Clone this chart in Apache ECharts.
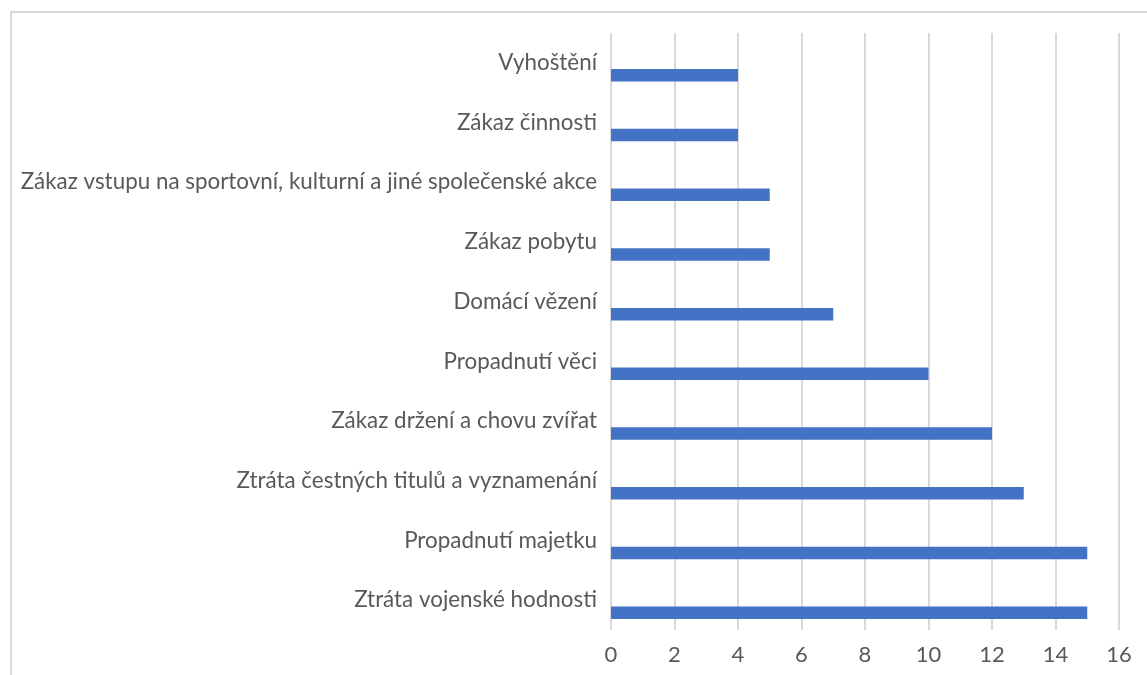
<!DOCTYPE html>
<html><head><meta charset="utf-8">
<script src="https://cdn.jsdelivr.net/npm/echarts@6/dist/echarts.min.js"></script>
<style>html,body{margin:0;padding:0;background:#fff}#c{width:1147px;height:675px}</style>
</head><body><div id="c"></div>
<script>
const categories = [
  "Vyhoštění",
  "Zákaz činnosti",
  "Zákaz vstupu na sportovní, kulturní a jiné společenské akce",
  "Zákaz pobytu",
  "Domácí vězení",
  "Propadnutí věci",
  "Zákaz držení a chovu zvířat",
  "Ztráta čestných titulů a vyznamenání",
  "Propadnutí majetku",
  "Ztráta vojenské hodnosti"
];
const values = [4, 4, 5, 5, 7, 10, 12, 13, 15, 15];
const emptyValues = categories.map(() => null);
const xTicks = [0, 2, 4, 6, 8, 10, 12, 14, 16];

const chart = echarts.init(document.getElementById('c'));
const FONT = 'Lato';
chart.setOption({
  animation: false,
  textStyle: { fontFamily: FONT },
  graphic: [{
    type: 'rect', silent: true,
    shape: { x: 11, y: 12, width: 1200, height: 700 },
    style: { fill: 'none', stroke: '#d9d9d9', lineWidth: 2 }
  }],
  grid: { left: 611, right: 28, top: 33, bottom: 45, containLabel: false },
  xAxis: {
    type: 'value', min: xTicks[0], max: xTicks[xTicks.length - 1], interval: 2,
    axisLine: { show: false }, axisTick: { show: false },
    splitLine: { show: true, lineStyle: { color: '#d9d9d9', width: 2 } },
    axisLabel: { color: '#595959', fontSize: 22, fontFamily: FONT, margin: 14 }
  },
  yAxis: {
    type: 'category', data: categories, inverse: true,
    axisLine: { show: false }, axisTick: { show: false },
    axisLabel: { color: '#595959', fontSize: 22.4, fontFamily: FONT, margin: 14 }
  },
  series: [
    { type: 'bar', data: emptyValues, barWidth: 12.5, barGap: '100%', itemStyle: { color: '#4472C4' } },
    { type: 'bar', data: values, barWidth: 12.5, barGap: '100%', itemStyle: { color: '#4472C4' } }
  ]
});
</script></body></html>
